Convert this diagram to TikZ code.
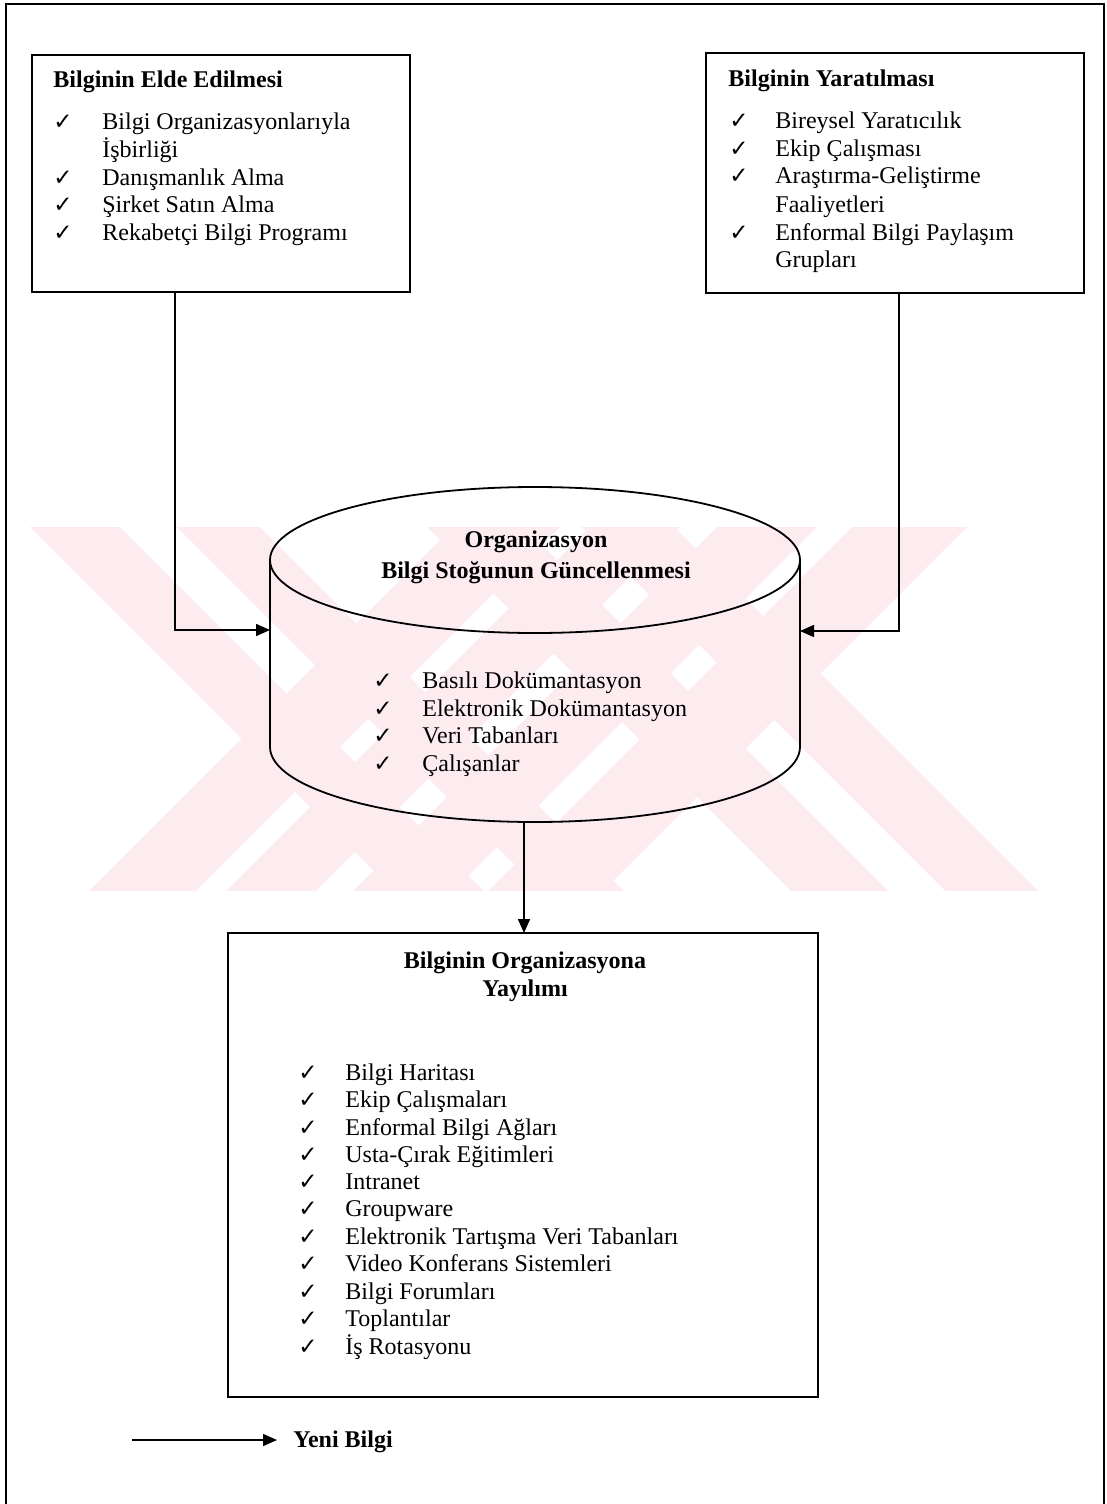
\documentclass[tikz,border=0pt]{standalone}
\usepackage{fontspec}
\setmainfont{Liberation Serif}
\newfontfamily\symf{DejaVu Sans}
\usetikzlibrary{arrows.meta,fit}
\definecolor{wmpink}{RGB}{252,236,240}

% one checked list row: name, x of tick, x of text, baseline y, text
\newcommand\chkrow[5]{%
  \node[chk] (#1c) at (#2,#4) {✓};
  \node[itm] (#1) at (#3,#4) {#5};}

\begin{document}
\begin{tikzpicture}[x=0.5pt,y=-0.5pt,
  frame/.style={line width=0.9pt},
  box/.style={draw,line width=1pt,rectangle,inner sep=0,outer sep=0},
  hub/.style={rectangle,inner sep=0,outer sep=0},
  conn/.style={line width=0.8pt},
  tip/.style={-{Triangle[length=7pt,width=6pt]}},
  ttl/.style={anchor=base west,inner sep=0,font=\bfseries\fontsize{12}{14}\selectfont},
  ctl/.style={anchor=base,inner sep=0,font=\bfseries\fontsize{12}{14}\selectfont},
  itm/.style={anchor=base west,inner sep=0,font=\fontsize{12}{14}\selectfont},
  chk/.style={anchor=base west,inner sep=0,font=\symf\fontsize{11.5}{13}\selectfont}
]
\useasboundingbox (0,0) rectangle (1107,1504);

% background emblem: diagonal bands
\begin{scope}
  \clip (0,527) rectangle (1107,890);
  \foreach \a/\b in {-497/-407,-350/-267,-100/-3,54/147}
    \fill[wmpink] ({400+(\a)},400) -- ({400+(\b)},400) -- ({1000+(\b)},1000) -- ({1000+(\a)},1000) -- cycle;
  \foreach \a/\b in {980/1087,1117/1207,1244/1344,1379/1494}
    \fill[wmpink] ({\a-400},400) -- ({\b-400},400) -- ({\b-1000},1000) -- ({\a-1000},1000) -- cycle;
\end{scope}

% page frame
\draw[frame] (6,1504) -- (6,4) -- (1104,4) -- (1104,1504);

% acquisition box
\node[box,fit={(32,55) (410,292)}] (acq) {};
\node[ttl] (acqt) at (53,88) {Bilginin Elde Edilmesi};
\chkrow{acq1}{53}{102}{130}{Bilgi Organizasyonlarıyla}
\node[itm] (acq1b) at (102,157) {İşbirliği};
\chkrow{acq2}{53}{102}{185}{Danışmanlık Alma}
\chkrow{acq3}{53}{102}{212}{Şirket Satın Alma}
\chkrow{acq4}{53}{102}{240}{Rekabetçi Bilgi Programı}

% creation box
\node[box,fit={(706,53) (1084,293)}] (cre) {};
\node[ttl] (cret) at (728,87) {Bilginin Yaratılması};
\chkrow{cre1}{729}{775}{128}{Bireysel Yaratıcılık}
\chkrow{cre2}{729}{775}{156}{Ekip Çalışması}
\chkrow{cre3}{729}{775}{184}{Araştırma-Geliştirme}
\node[itm] (cre3b) at (775,212) {Faaliyetleri};
\chkrow{cre4}{729}{775}{240}{Enformal Bilgi Paylaşım}
\node[itm] (cre4b) at (775,267) {Grupları};

% knowledge store cylinder
\node[hub,fit={(270,487) (800,822)}] (cyl) {};
\draw[conn,line width=0.9pt] (535,560) ellipse [x radius=132.5pt, y radius=36.5pt];
\draw[conn,line width=0.9pt] (270,560) -- (270,747)
  arc[start angle=180, end angle=360, x radius=132.5pt, y radius=37.5pt] -- (800,560);
\node[ctl] (cylt1) at (536,547) {Organizasyon};
\node[ctl] (cylt2) at (536,578) {Bilgi Stoğunun Güncellenmesi};
\chkrow{cyl1}{373}{422}{688}{Basılı Dokümantasyon}
\chkrow{cyl2}{373}{422}{716}{Elektronik Dokümantasyon}
\chkrow{cyl3}{373}{422}{743}{Veri Tabanları}
\chkrow{cyl4}{373}{422}{771}{Çalışanlar}

% diffusion box
\node[box,fit={(228,933) (818,1397)}] (dif) {};
\node[ctl] (dift1) at (525,968) {Bilginin Organizasyona};
\node[ctl] (dift2) at (525,996) {Yayılımı};
\chkrow{dif1}{298}{345}{1080}{Bilgi Haritası}
\chkrow{dif2}{298}{345}{1107}{Ekip Çalışmaları}
\chkrow{dif3}{298}{345}{1135}{Enformal Bilgi Ağları}
\chkrow{dif4}{298}{345}{1162}{Usta-Çırak Eğitimleri}
\chkrow{dif5}{298}{345}{1189}{Intranet}
\chkrow{dif6}{298}{345}{1216}{Groupware}
\chkrow{dif7}{298}{345}{1244}{Elektronik Tartışma Veri Tabanları}
\chkrow{dif8}{298}{345}{1271}{Video Konferans Sistemleri}
\chkrow{dif9}{298}{345}{1299}{Bilgi Forumları}
\chkrow{dif10}{298}{345}{1326}{Toplantılar}
\chkrow{dif11}{298}{345}{1354}{İş Rotasyonu}

% connectors
\coordinate (jl) at (175,630);
\coordinate (jr) at (899,631);
\coordinate (jd) at (524,0);
\draw[conn,tip] (acq.south -| jl) |- (cyl.west |- jl);
\draw[conn,tip] (cre.south -| jr) |- (cyl.east |- jr);
\draw[conn,tip] (cyl.south -| jd) -- (dif.north -| jd);

% legend
\coordinate (lg0) at (132,1440);
\coordinate (lg1) at (277,1440);
\draw[conn,tip] (lg0) -- (lg1);
\node[ttl] (lgt) at (293,1447) {Yeni Bilgi};
\end{tikzpicture}
\end{document}
